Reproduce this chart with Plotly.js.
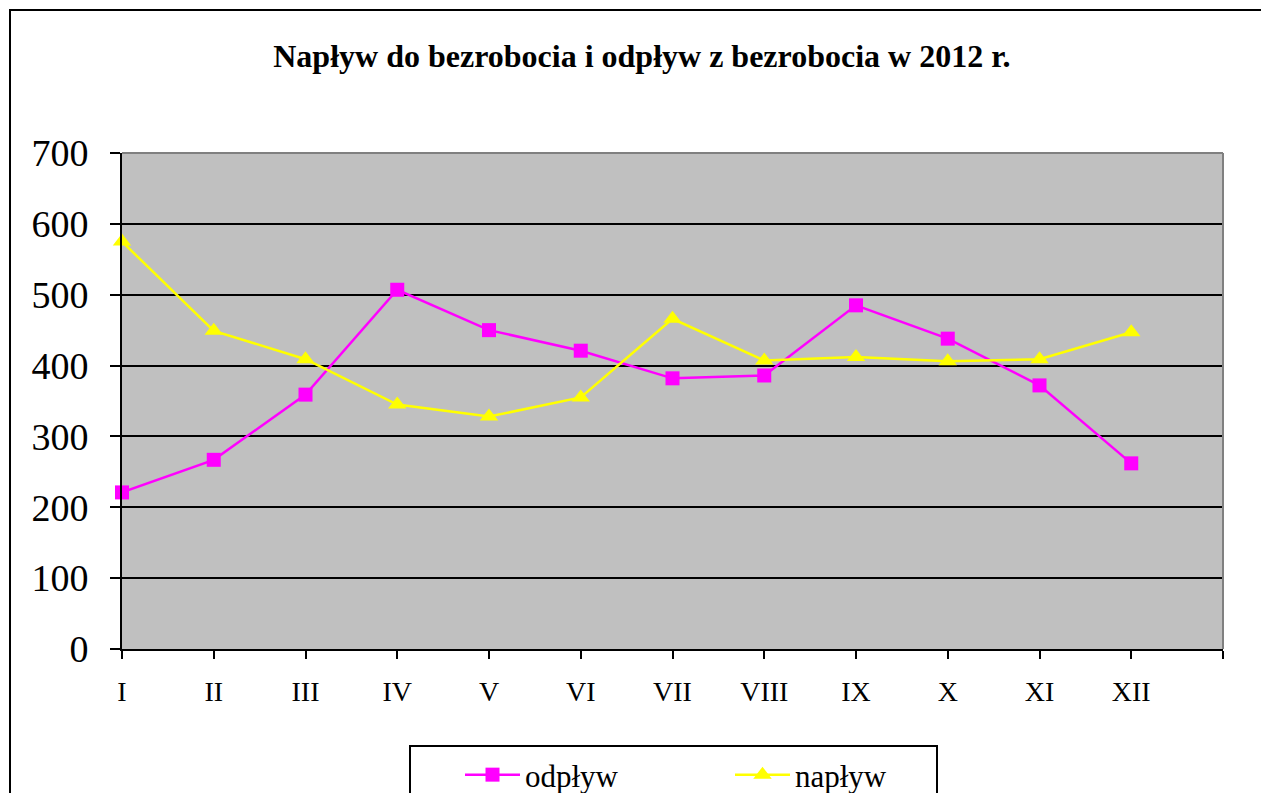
<!DOCTYPE html>
<html>
<head>
<meta charset="utf-8">
<script src="https://cdn.plot.ly/plotly-3.0.1.min.js"></script>
<style>
  html, body { margin: 0; padding: 0; background: #ffffff; }
  #chart { width: 1261px; height: 793px; }
</style>
</head>
<body>
<div id="chart"></div>
<script>
const months = ['I', 'II', 'III', 'IV', 'V', 'VI', 'VII', 'VIII', 'IX', 'X', 'XI', 'XII'];
const odplyw = [221, 267, 359, 507, 450, 421, 382, 386, 485, 438, 372, 262];
const naplyw = [575, 449, 409, 345, 328, 355, 466, 407, 412, 406, 409, 447];
const seriesNames = ['odpływ', 'napływ'];
const yTicks = [0, 100, 200, 300, 400, 500, 600, 700];
const chartTitle = 'Napływ do bezrobocia i odpływ z bezrobocia w 2012 r.';

const xIdx = months.map((_, i) => i);
const xTickVals = xIdx.concat([months.length]);
const xTickText = months.concat(['']);
const serif = '"Liberation Serif", "Times New Roman", Times, serif';

const traces = [
  {
    x: xIdx, y: odplyw, name: seriesNames[0], type: 'scatter', mode: 'lines+markers',
    line: { color: '#FF00FF', width: 2.5 },
    marker: { symbol: 'square', size: 14, color: '#FF00FF' },
    cliponaxis: false
  },
  {
    x: xIdx, y: naplyw, name: seriesNames[1], type: 'scatter', mode: 'lines+markers',
    line: { color: '#FFFF00', width: 2.5 },
    marker: { symbol: 'triangle-up', size: 16, color: '#FFFF00' },
    cliponaxis: false
  }
];

const layout = {
  width: 1261, height: 793,
  margin: { l: 122, r: 38, t: 153, b: 144, autoexpand: false },
  paper_bgcolor: '#ffffff',
  plot_bgcolor: '#C0C0C0',
  font: { family: serif, color: '#000000' },
  title: {
    text: '<b>' + chartTitle + '</b>',
    font: { family: serif, size: 32, color: '#000000' },
    xref: 'container', x: 0.509, xanchor: 'center',
    yref: 'container', y: 1 - 56 / 793, yanchor: 'middle'
  },
  xaxis: {
    range: [0, months.length],
    tickmode: 'array', tickvals: xTickVals, ticktext: xTickText,
    ticks: 'outside', ticklen: 8, tickwidth: 2, tickcolor: '#000000',
    showline: true, linecolor: '#000000', linewidth: 2,
    showgrid: false, zeroline: false,
    tickfont: { family: serif, size: 28, color: '#000000' },
    ticklabelstandoff: 8,
    fixedrange: true
  },
  yaxis: {
    range: [0, 700],
    tickmode: 'array', tickvals: yTicks,
    ticks: 'outside', ticklen: 10, tickwidth: 2, tickcolor: '#000000',
    showline: true, linecolor: '#000000', linewidth: 2,
    showgrid: true, gridcolor: '#000000', gridwidth: 2,
    zeroline: false,
    tickfont: { family: serif, size: 38, color: '#000000' },
    ticklabelstandoff: 14,
    fixedrange: true
  },
  showlegend: true,
  legend: {
    orientation: 'h',
    x: (460 - 122) / 1101, xanchor: 'left',
    y: (649 - 748) / 496, yanchor: 'top',
    bgcolor: 'rgba(0,0,0,0)', borderwidth: 0,
    font: { family: serif, size: 31, color: '#000000' },
    entrywidth: 200, entrywidthmode: 'pixels',
    itemwidth: 55,
    traceorder: 'normal'
  },
  shapes: [
    // plot area top and right border (gray)
    { type: 'line', xref: 'paper', yref: 'paper', x0: 0, x1: 1, y0: 1, y1: 1,
      line: { color: '#808080', width: 2 }, layer: 'above' },
    { type: 'line', xref: 'paper', yref: 'paper', x0: 1, x1: 1, y0: 0, y1: 1,
      line: { color: '#808080', width: 2 }, layer: 'above' },
    // outer chart border
    { type: 'rect', xref: 'paper', yref: 'paper',
      x0: (10 - 122) / 1101, x1: (1290 - 122) / 1101,
      y0: (649 - 820) / 496, y1: (649 - 10) / 496,
      line: { color: '#000000', width: 2 }, fillcolor: 'rgba(0,0,0,0)', layer: 'above' },
    // legend box
    { type: 'rect', xref: 'paper', yref: 'paper',
      x0: (410 - 122) / 1101, x1: (937 - 122) / 1101,
      y0: (649 - 820) / 496, y1: (649 - 746) / 496,
      line: { color: '#000000', width: 2 }, fillcolor: 'rgba(0,0,0,0)', layer: 'above' }
  ]
};

Plotly.newPlot('chart', traces, layout, { displayModeBar: false, staticPlot: true });
</script>
</body>
</html>
